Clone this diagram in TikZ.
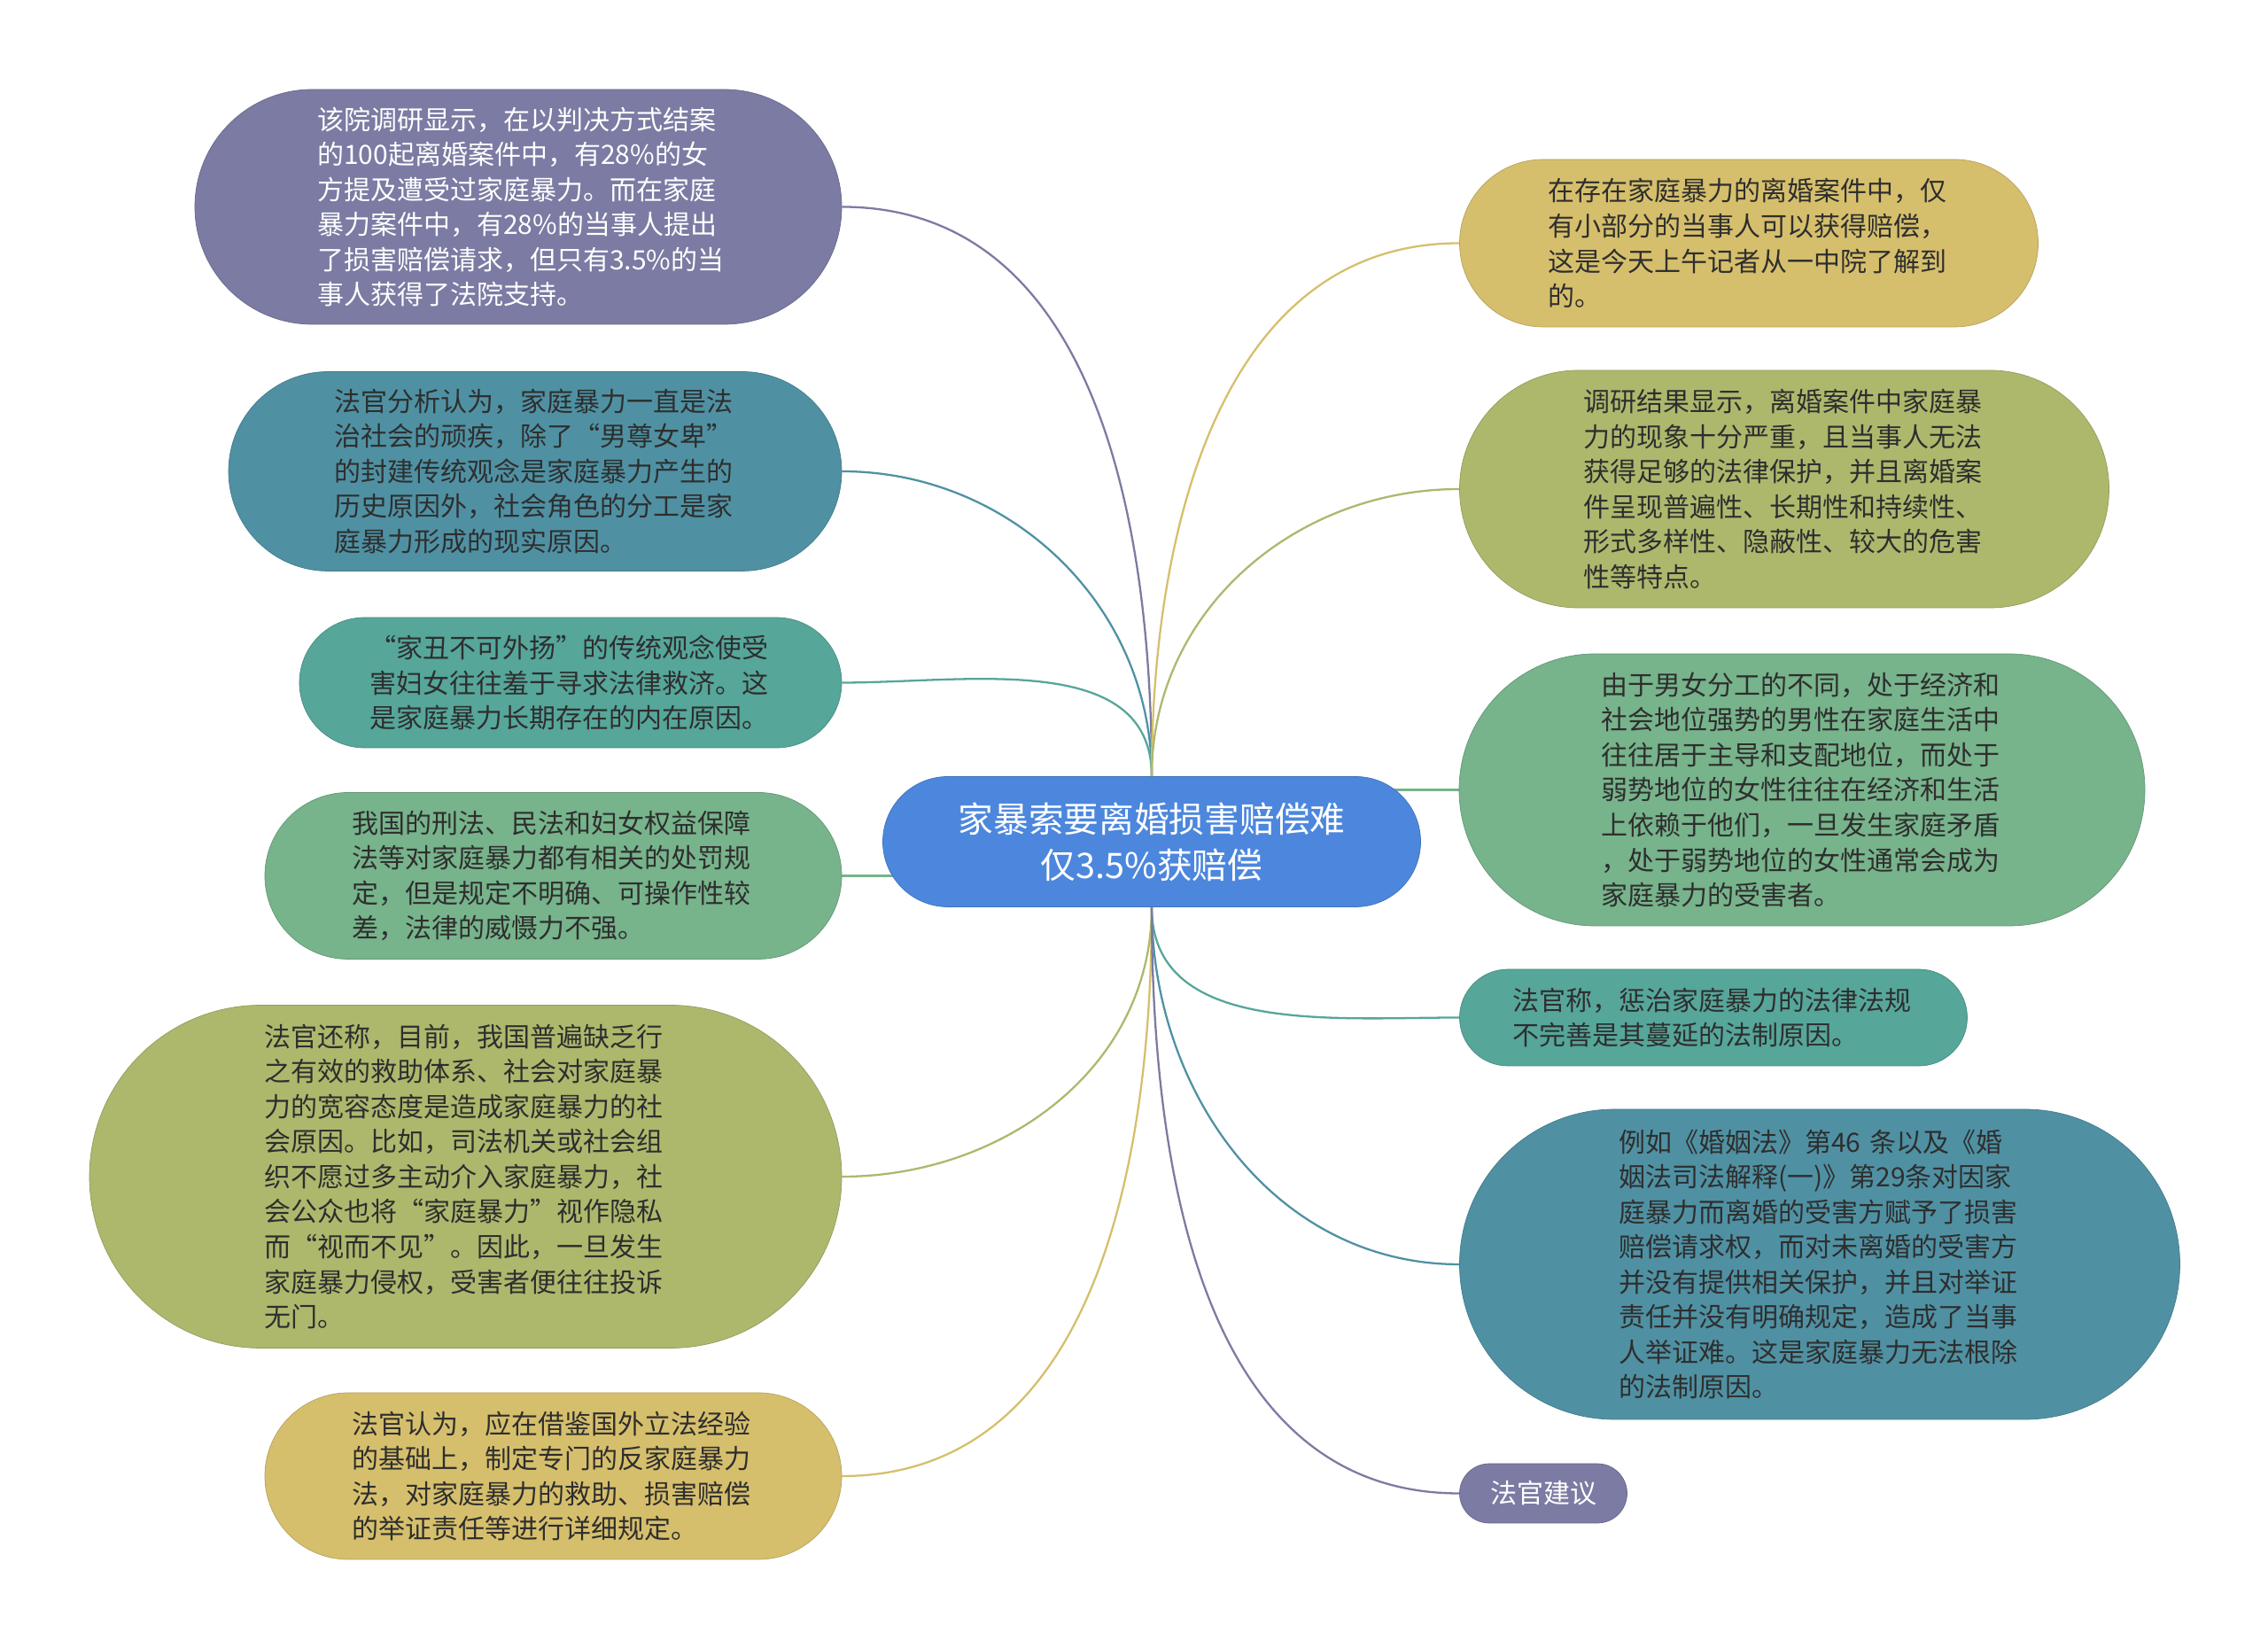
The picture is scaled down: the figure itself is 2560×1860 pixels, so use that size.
\documentclass[tikz,border=0pt]{standalone}
\usepackage{fontspec}
\setmainfont{Noto Sans CJK SC}
\pgfdeclarelayer{back}
\pgfsetlayers{back,main}
\definecolor{cPurple}{HTML}{7B7BA3}
\definecolor{cTealBlue}{HTML}{4F91A3}
\definecolor{cTeal}{HTML}{56A69A}
\definecolor{cGreen}{HTML}{77B38B}
\definecolor{cOlive}{HTML}{ADB86D}
\definecolor{cMustard}{HTML}{D6BF6C}
\definecolor{cBlue}{HTML}{4C87DD}
\definecolor{ink}{HTML}{2E2E2E}
\begin{document}
\begin{tikzpicture}[x=0.2mm,y=0.2mm,
		base/.style 2 args={rounded corners=#2/2,minimum width=#1,minimum height=#2,inner sep=2pt,font=\fontsize{17.07pt}{22.5pt}\selectfont},
		box/.style 2 args={base={#1}{#2},text width=258pt,align=left,text=ink},
		link/.style={line width=1.3pt}]
			\useasboundingbox (0,0) rectangle (2560,1860);
			\node[base={121.4mm}{29.4mm},fill=cBlue,draw=cBlue!85!black,text=white,align=center,font=\fontsize{22.6pt}{29.6pt}\selectfont] (root) at (1300,910) {家暴索要离婚损害赔偿难\\仅3.5\%获赔偿};
			\node[box={146mm}{53mm},fill=cPurple,draw=cPurple!85!black,text=white] (survey) at (585,1626.5) {该院调研显示，在以判决方式结案\\的100起离婚案件中，有28\%的女\\方提及遭受过家庭暴力。而在家庭\\暴力案件中，有28\%的当事人提出\\了损害赔偿请求，但只有3.5\%的当\\事人获得了法院支持。};
			\node[box={138.4mm}{45mm},fill=cTealBlue,draw=cTealBlue!85!black] (history) at (604,1328) {法官分析认为，家庭暴力一直是法\\治社会的顽疾，除了“男尊女卑”\\的封建传统观念是家庭暴力产生的\\历史原因外，社会角色的分工是家\\庭暴力形成的现实原因。};
			\node[box={122.4mm}{29.4mm},fill=cTeal,draw=cTeal!85!black] (shame) at (644,1089.5) {“家丑不可外扬”的传统观念使受\\害妇女往往羞于寻求法律救济。这\\是家庭暴力长期存在的内在原因。};
			\node[box={130.2mm}{37.6mm},fill=cGreen,draw=cGreen!85!black] (laws) at (624.5,871.5) {我国的刑法、民法和妇女权益保障\\法等对家庭暴力都有相关的处罚规\\定，但是规定不明确、可操作性较\\差，法律的威慑力不强。};
			\node[box={169.8mm}{77.4mm},fill=cOlive,draw=cOlive!85!black] (society) at (525.5,532) {法官还称，目前，我国普遍缺乏行\\之有效的救助体系、社会对家庭暴\\力的宽容态度是造成家庭暴力的社\\会原因。比如，司法机关或社会组\\织不愿过多主动介入家庭暴力，社\\会公众也将“家庭暴力”视作隐私\\而“视而不见”。因此，一旦发生\\家庭暴力侵权，受害者便往往投诉\\无门。};
			\node[box={130.2mm}{37.6mm},fill=cMustard,draw=cMustard!85!black] (advice) at (624.5,194) {法官认为，应在借鉴国外立法经验\\的基础上，制定专门的反家庭暴力\\法，对家庭暴力的救助、损害赔偿\\的举证责任等进行详细规定。};
			\node[box={130.6mm}{37.8mm},fill=cMustard,draw=cMustard!85!black] (intro) at (1974,1585.5) {在存在家庭暴力的离婚案件中，仅\\有小部分的当事人可以获得赔偿，\\这是今天上午记者从一中院了解到\\的。};
			\node[box={146.6mm}{53.6mm},fill=cOlive,draw=cOlive!85!black] (findings) at (2014,1308) {调研结果显示，离婚案件中家庭暴\\力的现象十分严重，且当事人无法\\获得足够的法律保护，并且离婚案\\件呈现普遍性、长期性和持续性、\\形式多样性、隐蔽性、较大的危害\\性等特点。};
			\node[box={154.8mm}{61.4mm},fill=cGreen,draw=cGreen!85!black] (roles) at (2034,968.5) {由于男女分工的不同，处于经济和\\社会地位强势的男性在家庭生活中\\往往居于主导和支配地位，而处于\\弱势地位的女性往往在经济和生活\\上依赖于他们，一旦发生家庭矛盾\\，处于弱势地位的女性通常会成为\\家庭暴力的受害者。};
			\node[box={114.6mm}{21.8mm},fill=cTeal,draw=cTeal!85!black] (statute) at (1934,711.5) {法官称，惩治家庭暴力的法律法规\\不完善是其蔓延的法制原因。};
			\node[box={162.6mm}{70mm},fill=cTealBlue,draw=cTealBlue!85!black] (marriage) at (2054,433) {例如《婚姻法》第46~条以及《婚\\姻法司法解释(一)》第29条对因家\\庭暴力而离婚的受害方赋予了损害\\赔偿请求权，而对未离婚的受害方\\并没有提供相关保护，并且对举证\\责任并没有明确规定，造成了当事\\人举证难。这是家庭暴力无法根除\\的法制原因。};
			\node[base={37.8mm}{13.4mm},fill=cPurple,draw=cPurple!85!black,text=white] (judge) at (1742,174.5) {法官建议};
			\begin{pgfonlayer}{back}
			\fill[white] (0,0) rectangle (2560,1860);
			\draw[link,cPurple] (root.north) to[out=90,in=0] (survey.east);
			\draw[link,cTealBlue] (root.north) to[out=90,in=0] (history.east);
			\draw[link,cTeal] (root.north) to[out=90,in=0] (shame.east);
			\draw[link,cGreen] (laws.east) -- (laws.east -| root.center);
			\draw[link,cOlive] (root.south) to[out=-90,in=0] (society.east);
			\draw[link,cMustard] (root.south) to[out=-90,in=0] (advice.east);
			\draw[link,cMustard] (root.north) to[out=90,in=180] (intro.west);
			\draw[link,cOlive] (root.north) to[out=90,in=180] (findings.west);
			\draw[link,cGreen] (roles.west) -- (roles.west -| root.center);
			\draw[link,cTeal] (root.south) to[out=-90,in=180] (statute.west);
			\draw[link,cTealBlue] (root.south) to[out=-90,in=180] (marriage.west);
			\draw[link,cPurple] (root.south) to[out=-90,in=180] (judge.west);
			\end{pgfonlayer}
		\end{tikzpicture}
\end{document}
